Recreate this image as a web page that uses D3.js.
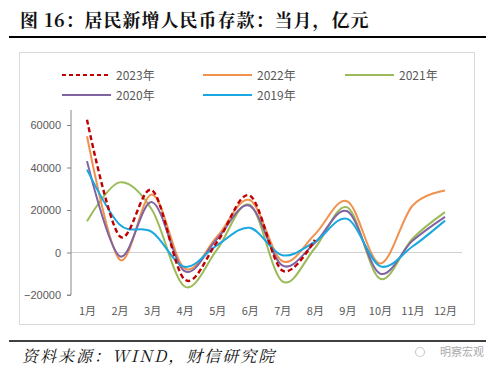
<!DOCTYPE html>
<html>
<head>
<meta charset="utf-8">
<script src="https://cdn.jsdelivr.net/npm/d3@7"></script>
<style>
  body { margin: 0; background: #fff; }
  svg { display: block; }
</style>
</head>
<body>
<svg id="chart" width="500" height="375"></svg>
<script>
const months = ["1月","2月","3月","4月","5月","6月","7月","8月","9月","10月","11月","12月"];
const yTicks = [-20000, 0, 20000, 40000, 60000];

// values in 亿元
const y2023 = [62500, 7700, 29300, -12700, 5000, 26800, -8500, 6000];
const y2022 = [54700, -3300, 27300, -7500, 7500, 24700, -4100, 8500, 24100, -5200, 22000, 29200];
const y2021 = [14700, 33000, 20000, -16000, 1500, 22500, -13600, 2000, 21200, -12300, 6500, 19000];
const y2020 = [43000, -1700, 23700, -8800, 6500, 22000, -6100, 4500, 19400, -9900, 5500, 16800];
const y2019 = [39000, 13200, 9600, -6700, 3500, 11600, -1300, 5000, 15800, -6400, 2800, 15000];

const seriesNames = ["2023年","2022年","2021年","2020年","2019年"];
const seriesColors = ["#c00000","#f0924e","#9bbb59","#8064a2","#1aa8e0"];

const series = [
  {name: seriesNames[0], values: y2023, color: seriesColors[0], dash: "5,3"},
  {name: seriesNames[1], values: y2022, color: seriesColors[1]},
  {name: seriesNames[2], values: y2021, color: seriesColors[2]},
  {name: seriesNames[3], values: y2020, color: seriesColors[3]},
  {name: seriesNames[4], values: y2019, color: seriesColors[4]}
];

const svg = d3.select("#chart");

// title
svg.append("text")
  .attr("x", 20).attr("y", 27)
  .style("font-family", "'Noto Serif CJK SC', 'Noto Sans CJK SC', serif")
  .style("font-weight", "bold")
  .style("font-size", "18px")
  .style("letter-spacing", "1px")
  .attr("fill", "#111")
  .text("图 16：居民新增人民币存款：当月，亿元");

svg.append("line")
  .attr("x1", 9).attr("x2", 486).attr("y1", 37).attr("y2", 37)
  .attr("stroke", "#000").attr("stroke-width", 2);

// chart frame
svg.append("rect")
  .attr("x", 19.5).attr("y", 52.5).attr("width", 455).attr("height", 272)
  .attr("fill", "none").attr("stroke", "#d9d9d9").attr("stroke-width", 1);

const margin = {left: 71, right: 462, top: 125, bottom: 295};

const x = d3.scalePoint()
  .domain(months)
  .range([87, 445]);

const y = d3.scaleLinear()
  .domain([-20000, 60000])
  .range([margin.bottom, margin.top]);

// zero line
svg.append("line")
  .attr("x1", margin.left).attr("x2", margin.right)
  .attr("y1", y(0)).attr("y2", y(0))
  .attr("stroke", "#d0d0d0").attr("stroke-width", 1.2);

// y axis
const yAxis = svg.append("g")
  .attr("transform", `translate(${margin.left},0)`)
  .call(d3.axisLeft(y).tickValues(yTicks).tickSize(4).tickPadding(6).tickFormat(d3.format("d")));
yAxis.select(".domain").attr("stroke", "#888").attr("d", `M-4,${y(-20000)}H0V${y(60000) - 15}`);
yAxis.selectAll(".tick line").attr("stroke", "#888");
yAxis.selectAll("text")
  .style("font-family", "'Liberation Sans', Arial, sans-serif")
  .style("font-size", "11px")
  .attr("fill", "#595959");

// x labels
const xAxis = svg.append("g")
  .attr("transform", `translate(0,${margin.bottom})`)
  .call(d3.axisBottom(x).tickSize(0).tickPadding(12));
xAxis.select(".domain").remove();
xAxis.selectAll("text")
  .style("font-family", "'Noto Sans CJK SC', sans-serif")
  .style("font-size", "11px")
  .attr("fill", "#595959");

// lines
const line = d3.line()
  .x((d, i) => x(months[i]))
  .y(d => y(d))
  .curve(d3.curveCatmullRom.alpha(0));

const drawOrder = [2, 1, 3, 4, 0];
drawOrder.forEach(k => {
  const s = series[k];
  svg.append("path")
    .datum(s.values)
    .attr("d", line)
    .attr("fill", "none")
    .attr("stroke", s.color)
    .attr("stroke-width", s.dash ? 2.4 : 2)
    .attr("stroke-dasharray", s.dash || null);
});

// legend
const legendPos = [[62, 75], [203, 75], [345, 75], [62, 95], [203, 95]];
series.forEach((s, i) => {
  const [lx, ly] = legendPos[i];
  const g = svg.append("g").attr("transform", `translate(${lx},${ly})`);
  g.append("line")
    .attr("x1", 0).attr("x2", 49).attr("y1", 0).attr("y2", 0)
    .attr("stroke", s.color).attr("stroke-width", 2)
    .attr("stroke-dasharray", s.dash ? "4,3" : null);
  g.append("text")
    .attr("x", 54).attr("y", 4.5)
    .style("font-family", "'Noto Sans CJK SC', sans-serif")
    .style("font-size", "12px")
    .attr("fill", "#595959")
    .text(s.name);
});

// footer
svg.append("line")
  .attr("x1", 9).attr("x2", 486).attr("y1", 341).attr("y2", 341)
  .attr("stroke", "#000").attr("stroke-width", 1.5);

svg.append("text")
  .attr("x", 22).attr("y", 362)
  .style("font-family", "'Noto Serif CJK SC', 'Liberation Serif', 'Noto Sans CJK SC', serif")
  .style("font-style", "italic")
  .style("font-size", "16px")
  .style("letter-spacing", "2px")
  .attr("fill", "#111")
  .text("资料来源：WIND，财信研究院");

svg.append("text")
  .attr("x", 484).attr("y", 356)
  .attr("text-anchor", "end")
  .style("font-family", "'Noto Sans CJK SC', sans-serif")
  .style("font-size", "11px")
  .attr("fill", "#aaa")
  .text("明察宏观");
svg.append("circle")
  .attr("cx", 420).attr("cy", 352).attr("r", 4.5)
  .attr("fill", "none").attr("stroke", "#ccc").attr("stroke-width", 1.2);
</script>
</body>
</html>
